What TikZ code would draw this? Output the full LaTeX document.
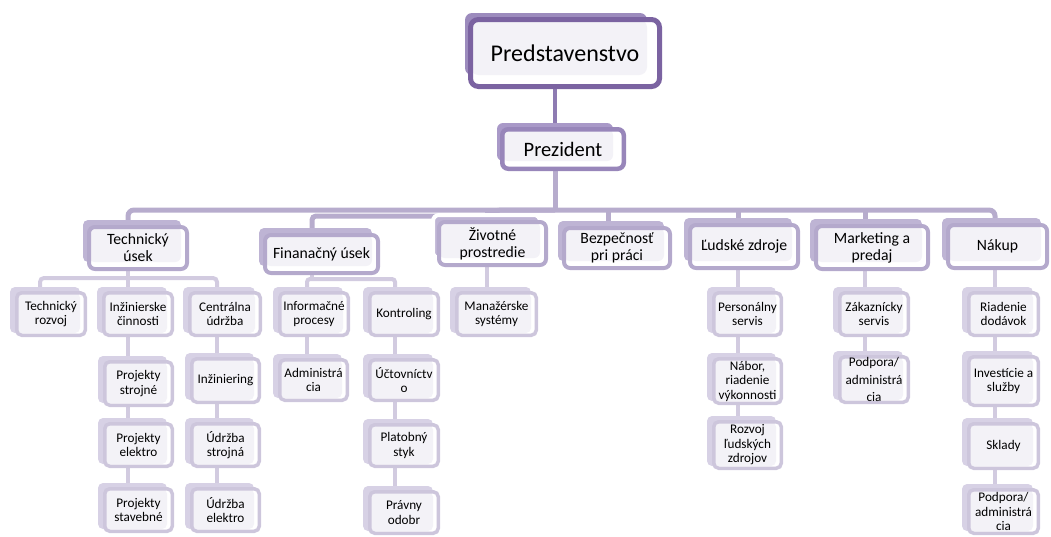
\documentclass[tikz,border=0pt]{standalone}
\usepackage{fontspec}
\setmainfont{Carlito}
\pgfdeclarelayer{links}
\pgfdeclarelayer{shades}
\pgfsetlayers{links,shades,main}

\definecolor{boxfill}{HTML}{F3F2F7}
\definecolor{c0b}{HTML}{7B63A1}
\definecolor{c0s}{HTML}{9C8BBD}
\definecolor{cPb}{HTML}{9886BA}
\definecolor{cPs}{HTML}{A999C8}
\definecolor{c1b}{HTML}{B4A9CC}
\definecolor{c1s}{HTML}{BEB4D4}
\definecolor{c2b}{HTML}{CDC6DC}
\definecolor{c2s}{HTML}{D7D1E5}
\definecolor{k0}{HTML}{8E7BB2}
\definecolor{k1}{HTML}{B7ACCD}
\definecolor{k2}{HTML}{D2CBE0}

% box geometry: border width and offsets of the back plate
\newcommand\boxparams[5]{\def\bwd{#1}\def\shA{#2}\def\shB{#3}\def\shC{#4}\def\shD{#5}}

% \obox{name}{style}{x1}{y1}{x2}{y2}{text}  (outer edges, y downwards)
\newcommand\obox[7]{%
  \node[#2, minimum width={#5-#3-\bwd}, minimum height={#6-#4-\bwd}]
    (#1) at ({(#3+#5)/2},{(#4+#6)/2}) {#7};
  \begin{pgfonlayer}{shades}
    \path[#2 shade] ({#3-\shA},{#4-\shB}) rectangle ({#5-\shC},{#6-\shD});
  \end{pgfonlayer}}

% vertical link from the bottom of one box to the top of the next
\newcommand\vlink[3]{\draw[link2] ([xshift=#3]#1.south) -- ([xshift=#3]#1.south |- #2.north);}

\begin{document}
\begin{tikzpicture}[x=1pt,y=-1pt,
  orgbox/.style={fill=white, inner sep=0pt, align=center, text=black,
    path picture={\fill[boxfill] (path picture bounding box.north west) rectangle
      ([xshift={-(\shC-\bwd/2)*1pt}, yshift={(\shD-\bwd/2)*1pt}]path picture bounding box.south east);}},
  lvl0/.style={orgbox, draw=c0b, line width=5pt, rounded corners=8pt,
    font=\fontsize{24}{28}\selectfont},
  lvl0 shade/.style={fill=c0s, rounded corners=7pt},
  lvlP/.style={orgbox, draw=cPb, line width=4.5pt, rounded corners=6pt,
    font=\fontsize{20.5}{24}\selectfont},
  lvlP shade/.style={fill=cPs, rounded corners=6pt},
  lvl1/.style={orgbox, draw=c1b, line width=4pt, rounded corners=6pt,
    font=\fontsize{15.7}{16.8}\selectfont},
  lvl1 shade/.style={fill=c1s, rounded corners=5pt},
  lvl1w/.style={lvl1},
  lvl1w shade/.style={fill=c1s, draw=white, line width=4pt, rounded corners=6pt},
  lvl2/.style={orgbox, draw=c2b, line width=3.5pt, rounded corners=5pt,
    font=\fontsize{13.2}{14.5}\selectfont},
  lvl2 shade/.style={fill=c2s, rounded corners=5pt},
  link0/.style={draw=k0, line width=4.5pt},
  link1/.style={draw=k1, line width=5pt},
  link2/.style={draw=k2, line width=4pt}]

\useasboundingbox (0,0) rectangle (1051,536);

% top of the hierarchy
\boxparams{5}{3}{4}{15}{14}
\obox{P0}{lvl0}{468}{17}{662}{89}{Predstavenstvo}
\boxparams{4.5}{3}{4}{13}{10}
\obox{P1}{lvlP}{500}{127}{626}{171}{Prezident}

% divisions
\boxparams{4}{4}{5}{8}{9}
\obox{T}{lvl1}{87}{225}{189}{271}{Technický\\úsek}
\obox{F}{lvl1}{263}{233}{380}{275}{Finanačný úsek}
\obox{Z}{lvl1w}{437}{220}{548}{267}{Životné\\prostredie}
\obox{B}{lvl1}{562}{226}{672}{270}{Bezpečnosť\\pri práci}
\obox{L}{lvl1}{688}{223}{800}{270}{Ľudské zdroje}
\obox{M}{lvl1}{814}{224}{930}{271}{Marketing a\\predaj}
\obox{N}{lvl1}{946}{223}{1049}{270}{Nákup}

% departments
\boxparams{3.5}{5}{4}{7}{4}
\obox{TR}{lvl2}{15}{291}{87}{337}{Technický\\rozvoj}
\obox{IC}{lvl2}{102}{291}{174}{337}{Inžinierske\\činnosti}
\obox{CU}{lvl2}{188}{291}{262}{337}{Centrálna\\údržba}
\obox{PSt}{lvl2}{103}{360}{174}{407}{Projekty\\strojné}
\obox{IN}{lvl2}{190}{357}{261}{404}{Inžiniering}
\obox{PE}{lvl2}{103}{422}{174}{468}{Projekty\\elektro}
\obox{US}{lvl2}{190}{422}{261}{468}{Údržba\\strojná}
\obox{PSv}{lvl2}{103}{487}{174}{533}{Projekty\\stavebné}
\obox{UE}{lvl2}{190}{487}{261}{533}{Údržba\\elektro}

\obox{IP}{lvl2}{278}{291}{350}{337}{Informačné\\procesy}
\obox{KO}{lvl2}{368}{291}{440}{337}{Kontroling}
\obox{AD}{lvl2}{278}{358}{349}{402}{Administrá\\cia}
\obox{UC}{lvl2}{368}{358}{440}{402}{Účtovníctv\\o}
\obox{PL}{lvl2}{368}{423}{440}{468}{Platobný\\styk}
\obox{PR}{lvl2}{368}{490}{440}{535}{Právny\\odobr}

\obox{MS}{lvl2}{455}{291}{538}{337}{Manažérske\\systémy}

\obox{PSe}{lvl2}{712}{291}{783}{337}{Personálny\\servis}
\obox{NA}{lvl2}{712}{357}{783}{405}{Nábor,\\riadenie\\výkonnosti}
\obox{RO}{lvl2}{712}{420}{783}{470}{Rozvoj\\ľudských\\zdrojov}

\obox{ZS}{lvl2}{838}{291}{910}{337}{Zákaznícky\\servis}
\obox{PM}{lvl2}{838}{355}{910}{404}{Podpora/\\[3pt]administrá\\[3pt]cia}

\obox{RD}{lvl2}{967}{291}{1040}{337}{Riadenie\\dodávok}
\obox{IS}{lvl2}{967}{355}{1040}{407}{Investície a\\služby}
\obox{SK}{lvl2}{967}{422}{1040}{470}{Sklady}
\obox{PN}{lvl2}{967}{488}{1040}{535}{Podpora/\\administrá\\cia}

% connectors, behind everything
\begin{pgfonlayer}{links}
  \coordinate (bus) at (555,210);
  \coordinate (fstep) at (486,216);
  \coordinate (fjoin) at (497,210);
  \coordinate (tbus) at (128,278);
  \coordinate (fbus) at (350,279);

  \draw[link0] ([xshift=-10]P0.south) -- ([xshift=-10]P0.south |- P1.north);
  \draw[link1] ([xshift=-8]P1.south) -- (bus);
  \draw[link1, rounded corners=6pt] ([xshift=-10]T.north) |- (bus) -| ([xshift=-2.5]N.north);
  \draw[link1, rounded corners=4pt] ([xshift=-9.5]F.north) |- (fstep) -- (fjoin) -- (bus);
  \foreach \n/\s in {Z/-5.5, B/-9, L/-6, M/-7}
    \draw[link1] ([xshift=\s]\n.north |- bus) -- ([xshift=\s]\n.north);

  % Technický úsek
  \draw[link2, rounded corners=4pt] ([xshift=-11]TR.north) |- (tbus) -| ([xshift=-8]CU.north);
  \draw[link2] ([xshift=-10]T.south) -- ([xshift=-10]T.south |- IC.north);
  \vlink{IC}{PSt}{-10}
  \vlink{PSt}{PE}{-10.5}
  \vlink{PE}{PSv}{-10.5}
  \vlink{CU}{IN}{-8}
  \vlink{IN}{US}{-8.5}
  \vlink{US}{UE}{-8.5}

  % Finanačný úsek
  \draw[link2, rounded corners=3pt] ([xshift=-7]IP.north) |- (fbus) -| ([xshift=-9]KO.north);
  \draw[link2] ([xshift=-9.5]F.south) -- ([xshift=-9.5]F.south |- fbus);
  \vlink{IP}{AD}{-7}
  \vlink{KO}{UC}{-9}
  \vlink{UC}{PL}{-9}
  \vlink{PL}{PR}{-9}

  % Životné prostredie
  \vlink{Z}{MS}{-5.5}

  % Ľudské zdroje
  \vlink{L}{PSe}{-6}
  \vlink{PSe}{NA}{-9.5}
  \vlink{NA}{RO}{-9.5}

  % Marketing a predaj
  \vlink{M}{ZS}{-7}
  \vlink{ZS}{PM}{-9}

  % Nákup
  \vlink{N}{RD}{-2.5}
  \vlink{RD}{IS}{-8.5}
  \vlink{IS}{SK}{-8.5}
  \vlink{SK}{PN}{-8.5}
\end{pgfonlayer}
\end{tikzpicture}
\end{document}
